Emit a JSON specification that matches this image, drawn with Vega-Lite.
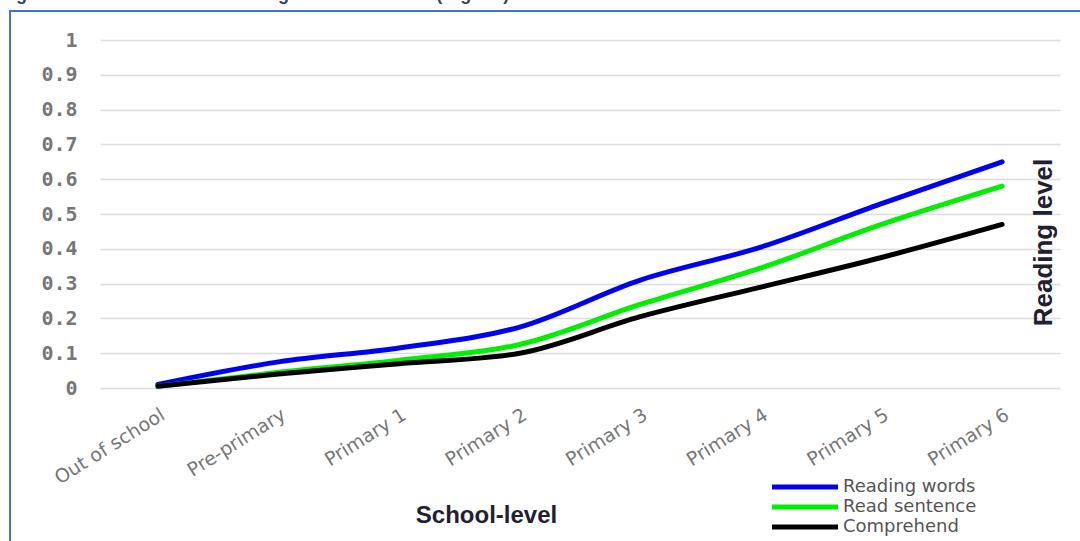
{
  "$schema": "https://vega.github.io/schema/vega-lite/v6.json",
  "width": 1080,
  "height": 540,
  "autosize": {"type": "none"},
  "padding": {"left": 10, "top": 11, "right": -10, "bottom": -10},
  "background": "white",
  "title": {
    "text": "Figure 5: Evidence on the reading level of learners (Nigeria)",
    "anchor": "start",
    "frame": "group",
    "dx": -10,
    "offset": 0,
    "dy": 7,
    "baseline": "alphabetic",
    "font": "Liberation Sans",
    "fontSize": 18,
    "fontWeight": "bold",
    "color": "#3b4350"
  },
  "config": {"view": {"stroke": "#4472c4", "strokeWidth": 2}},
  "data": {
    "values": [
      {"level": "Out of school", "series": "Reading words", "value": 0.01},
      {"level": "Pre-primary", "series": "Reading words", "value": 0.075},
      {"level": "Primary 1", "series": "Reading words", "value": 0.115},
      {"level": "Primary 2", "series": "Reading words", "value": 0.175},
      {"level": "Primary 3", "series": "Reading words", "value": 0.31},
      {"level": "Primary 4", "series": "Reading words", "value": 0.405},
      {"level": "Primary 5", "series": "Reading words", "value": 0.53},
      {"level": "Primary 6", "series": "Reading words", "value": 0.65},
      {"level": "Out of school", "series": "Read sentence", "value": 0.005},
      {"level": "Pre-primary", "series": "Read sentence", "value": 0.045},
      {"level": "Primary 1", "series": "Read sentence", "value": 0.08},
      {"level": "Primary 2", "series": "Read sentence", "value": 0.125},
      {"level": "Primary 3", "series": "Read sentence", "value": 0.24},
      {"level": "Primary 4", "series": "Read sentence", "value": 0.345},
      {"level": "Primary 5", "series": "Read sentence", "value": 0.47},
      {"level": "Primary 6", "series": "Read sentence", "value": 0.58},
      {"level": "Out of school", "series": "Comprehend", "value": 0.005},
      {"level": "Pre-primary", "series": "Comprehend", "value": 0.04},
      {"level": "Primary 1", "series": "Comprehend", "value": 0.07},
      {"level": "Primary 2", "series": "Comprehend", "value": 0.1},
      {"level": "Primary 3", "series": "Comprehend", "value": 0.205},
      {"level": "Primary 4", "series": "Comprehend", "value": 0.29},
      {"level": "Primary 5", "series": "Comprehend", "value": 0.375},
      {"level": "Primary 6", "series": "Comprehend", "value": 0.47}
    ]
  },
  "mark": {"type": "line", "interpolate": "monotone", "strokeWidth": 5, "strokeCap": "round"},
  "encoding": {
    "x": {
      "field": "level",
      "type": "ordinal",
      "sort": null,
      "scale": {"type": "point", "range": [90, 1050], "padding": 0.48},
      "axis": {
        "offset": -163,
        "ticks": false,
        "domain": false,
        "grid": false,
        "labelAngle": -32,
        "labelPadding": 17,
        "labelOverlap": false,
        "labelFont": "DejaVu Sans",
        "labelFontSize": 19,
        "labelColor": "#777777",
        "title": "School-level",
        "titleX": 476,
        "titleY": 134,
        "titleAlign": "center",
        "titleBaseline": "alphabetic",
        "titleFont": "Liberation Sans",
        "titleFontSize": 24,
        "titleFontWeight": "bold",
        "titleColor": "#1f2030"
      }
    },
    "y": {
      "field": "value",
      "type": "quantitative",
      "scale": {"domain": [0, 1], "range": [377, 29], "nice": false, "zero": false},
      "axis": {
        "values": [0, 0.1, 0.2, 0.3, 0.4, 0.5, 0.6, 0.7, 0.8, 0.9, 1],
        "labelExpr": "'' + datum.value",
        "offset": -67,
        "ticks": false,
        "domain": false,
        "grid": true,
        "gridColor": "#dcdcdc",
        "gridWidth": 1.5,
        "labelPadding": 0,
        "labelFont": "DejaVu Sans Mono",
        "labelFontWeight": "bold",
        "labelFontSize": 20,
        "labelColor": "#777777",
        "title": "Reading level",
        "titleX": 966,
        "titleY": 231,
        "titleAngle": -90,
        "titleAlign": "center",
        "titleBaseline": "middle",
        "titleFont": "Liberation Sans",
        "titleFontSize": 26,
        "titleFontWeight": "bold",
        "titleColor": "#1f2030"
      }
    },
    "color": {
      "field": "series",
      "type": "nominal",
      "sort": null,
      "scale": {
        "domain": ["Reading words", "Read sentence", "Comprehend"],
        "range": ["#0000f0", "#00ee00", "#000000"]
      },
      "legend": {
        "orient": "none",
        "legendX": 785,
        "legendY": 466,
        "title": null,
        "padding": 0,
        "rowPadding": 0,
        "symbolType": "M-4.4,0H4.4",
        "symbolSize": 225,
        "symbolStrokeWidth": 5,
        "labelFont": "DejaVu Sans",
        "labelFontSize": 18,
        "labelColor": "#555555",
        "labelOffset": 28
      }
    }
  }
}
